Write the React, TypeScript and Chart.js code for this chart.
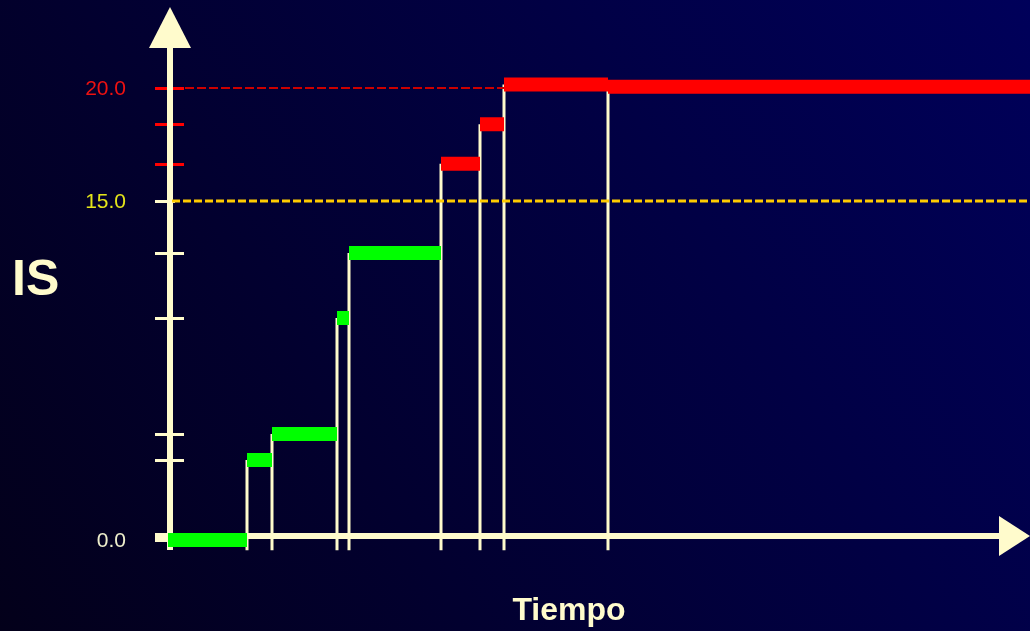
import React, { useEffect, useRef } from "react";
import { Chart, registerables } from "chart.js";

Chart.register(...registerables);

// ---- data ----
const stepTimes = [-0.2, 7.7, 10.2, 16.7, 17.9, 27.1, 31.0, 33.4, 43.8, 86];
const stepLevels = [0, 3.54, 4.69, 9.82, 12.7, 16.65, 18.4, 20.15, 20.05];
const warnLevel = 15;
const alarmLevel = 20;
const yTickValues = [0, 3.54, 4.69, 9.82, 12.7, 15, 16.65, 18.4, 20];
const yLabelValues = [0, 15, 20];
const yLabelTexts = ["0.0", "15.0", "20.0"];
const xTitle = "Tiempo";
const yTitle = "IS";

const CREAM = "#fffbcc";
const GREEN = "#00ff00";
const RED = "#ff0000";
const FONT = "'Liberation Sans', Arial, sans-serif";

type P = { x: number; y: number | null };

function segments(from: number, to: number): P[] {
  const pts: P[] = [];
  for (let i = from; i < to; i++) {
    pts.push({ x: stepTimes[i], y: stepLevels[i] });
    pts.push({ x: stepTimes[i + 1], y: stepLevels[i] });
    pts.push({ x: stepTimes[i + 1], y: null });
  }
  return pts;
}

function verticals(): P[] {
  const pts: P[] = [];
  for (let i = 1; i < stepLevels.length; i++) {
    pts.push({ x: stepTimes[i], y: -0.45 });
    pts.push({ x: stepTimes[i], y: Math.max(stepLevels[i], stepLevels[i - 1]) });
    pts.push({ x: stepTimes[i], y: null });
  }
  return pts;
}

const firstRed = stepLevels.findIndex((v) => v > warnLevel);

const decor = {
  id: "decor",
  beforeDraw(chart: any) {
    const { ctx, width, height } = chart;
    const g = ctx.createLinearGradient(0, height, width, 0);
    g.addColorStop(0, "#03001a");
    g.addColorStop(1, "#00005a");
    ctx.save();
    ctx.fillStyle = g;
    ctx.fillRect(0, 0, width, height);
    ctx.restore();
  },
  beforeDatasetsDraw(chart: any) {
    const { ctx, width } = chart;
    const xs = chart.scales.x;
    const ys = chart.scales.y;
    const x0 = xs.getPixelForValue(0);
    const y0 = ys.getPixelForValue(0);
    ctx.save();
    // y ticks
    ctx.lineWidth = 3;
    yTickValues.forEach((v) => {
      const py = Math.round(ys.getPixelForValue(v)) + 0.5;
      ctx.strokeStyle = v > warnLevel ? RED : CREAM;
      ctx.beginPath();
      ctx.moveTo(x0 - 15, py);
      ctx.lineTo(v === warnLevel ? x0 + 5 : x0 + 14, py);
      ctx.stroke();
    });
    // y axis
    ctx.strokeStyle = CREAM;
    ctx.fillStyle = CREAM;
    ctx.lineWidth = 6;
    ctx.beginPath();
    ctx.moveTo(x0, y0 + 10);
    ctx.lineTo(x0, 46);
    ctx.stroke();
    ctx.beginPath();
    ctx.moveTo(x0, 7);
    ctx.lineTo(x0 + 21, 48);
    ctx.lineTo(x0 - 21, 48);
    ctx.closePath();
    ctx.fill();
    // x axis
    const ya = y0 - 4;
    ctx.beginPath();
    ctx.moveTo(x0 - 15, ya);
    ctx.lineTo(1001, ya);
    ctx.stroke();
    ctx.beginPath();
    ctx.moveTo(width, ya);
    ctx.lineTo(999, ya - 20);
    ctx.lineTo(999, ya + 20);
    ctx.closePath();
    ctx.fill();
    // tick labels
    ctx.font = `21px ${FONT}`;
    ctx.textAlign = "right";
    ctx.textBaseline = "middle";
    yLabelValues.forEach((v, i) => {
      ctx.fillStyle = v >= alarmLevel ? "#ee1111" : v >= warnLevel ? "#e4e41a" : "#eeeecc";
      ctx.fillText(yLabelTexts[i], 126, ys.getPixelForValue(v) + 1);
    });
    // titles
    ctx.fillStyle = CREAM;
    ctx.textBaseline = "alphabetic";
    ctx.textAlign = "left";
    ctx.font = `bold 50px ${FONT}`;
    ctx.fillText(yTitle, 12, 295);
    ctx.textAlign = "center";
    ctx.font = `bold 32px ${FONT}`;
    ctx.fillText(xTitle, 569, 620);
    ctx.restore();
  },
};

export default function App() {
  const ref = useRef<HTMLCanvasElement | null>(null);
  useEffect(() => {
    if (!ref.current) return;
    const lastT = stepTimes[stepTimes.length - 1];
    const chart = new Chart(ref.current, {
      type: "line",
      data: {
        datasets: [
          {
            label: "normal",
            data: segments(0, firstRed),
            borderColor: GREEN,
            borderWidth: 14,
            borderCapStyle: "butt",
            pointRadius: 0,
            spanGaps: false,
            order: 0,
          },
          {
            label: "alarma",
            data: segments(firstRed, stepLevels.length),
            borderColor: RED,
            borderWidth: 14,
            borderCapStyle: "butt",
            pointRadius: 0,
            spanGaps: false,
            order: 0,
          },
          {
            label: "umbral 20",
            data: [
              { x: 1.5, y: alarmLevel },
              { x: stepTimes[firstRed + 2], y: alarmLevel },
            ],
            borderColor: "#cc0000",
            borderWidth: 2,
            borderDash: [9, 3],
            pointRadius: 0,
            order: 1,
          },
          {
            label: "umbral 15",
            data: [
              { x: 0.2, y: warnLevel },
              { x: lastT, y: warnLevel },
            ],
            borderColor: "#ffcc00",
            borderWidth: 3,
            borderDash: [8, 3],
            pointRadius: 0,
            order: 1,
          },
          {
            label: "cambios",
            data: verticals(),
            borderColor: CREAM,
            borderWidth: 3,
            pointRadius: 0,
            spanGaps: false,
            order: 2,
          },
        ] as any,
      },
      options: {
        animation: false,
        responsive: false,
        devicePixelRatio: 1,
        layout: { padding: 0 },
        scales: {
          x: { type: "linear", min: -17, max: 86, display: false },
          y: { type: "linear", min: -91 / 22.6, max: 540 / 22.6, display: false },
        },
        plugins: { legend: { display: false }, tooltip: { enabled: false } },
        elements: { line: { tension: 0 } },
      },
      plugins: [decor],
    });
    return () => chart.destroy();
  }, []);
  return (
    <div style={{ position: "absolute", left: 0, top: 0, width: 1030, height: 631 }}>
      <canvas ref={ref} width={1030} height={631} style={{ display: "block" }} />
    </div>
  );
}
